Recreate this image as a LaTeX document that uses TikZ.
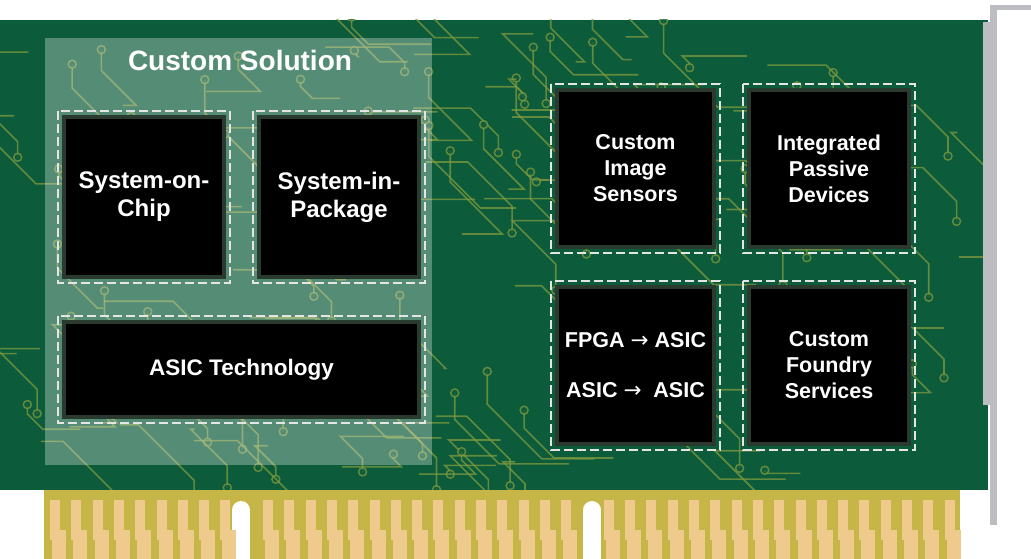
\documentclass[tikz,border=0pt]{standalone}
\usepackage{fontspec}
\setmainfont{Liberation Sans}
\newfontfamily\arrowfont{DejaVu Sans}
\usetikzlibrary{positioning}
\definecolor{board}{HTML}{0C5B3B}
\definecolor{trace}{HTML}{7E9A3F}
\definecolor{gold}{HTML}{C6B647}
\definecolor{finger}{HTML}{EECB8C}
\definecolor{bracket}{HTML}{BCBDC0}
\definecolor{rim}{HTML}{2B3A2E}
\tikzset{
  chip/.style={draw=rim, line width=4pt, fill=black, text=white, anchor=north west,
    font=\bfseries\fontsize{21.5}{26}\selectfont, align=center, inner sep=0pt},
  chipframe/.style={draw=white!80!gray, line width=2.5pt, dash pattern=on 9pt off 4pt},
  wire/.style={draw=trace, line width=1.6pt, opacity=0.75},
  pad/.style={draw=trace, line width=1.5pt, opacity=0.75}
}
\newcommand{\arr}{{\arrowfont\mdseries →}}
\begin{document}
\begin{tikzpicture}[x=1pt,y=-1pt]
\useasboundingbox (0,0) rectangle (1031,559);
% board
\fill[board] (0,20) rectangle (988,490);
% traces
\begin{scope}
\clip (0,20) rectangle (985,490);
\pgfmathsetseed{7}
\foreach \i in {1,...,150}{
  \pgfmathsetmacro{\xa}{10+rnd*960}
  \pgfmathsetmacro{\ya}{30+rnd*450}
  \pgfmathsetmacro{\dx}{(rnd-0.5)*140}
  \pgfmathsetmacro{\dy}{(rnd-0.5)*120}
  \draw[wire] (\xa,\ya) -- ++(\dx,0) -- ++(\dy,\dy) -- ++(0,\dy*0.6) coordinate (e\i);
  \draw[pad, fill=board] (e\i) circle (4pt);
}
\end{scope}
% bracket
\fill[bracket] (990,5) rectangle (997,525);
\fill[bracket] (990,5) rectangle (1031,10);
\fill[bracket] (983,22) rectangle (992,405);
% edge connector
\fill[gold] (44,490) rectangle (960,559);
\fill[white] (232,510) rectangle (250,559);
\fill[white] (241,510) circle (9pt);
\fill[white] (583,510) rectangle (601,559);
\fill[white] (592,510) circle (9pt);
\foreach \k in {0,...,42}{
  \pgfmathsetmacro{\fx}{50+\k*21.3}
  \pgfmathparse{(\fx>222 && \fx<252) || (\fx>573 && \fx<603) ? 1 : 0}
  \ifnum\pgfmathresult=0
    \fill[finger] (\fx,500) rectangle ++(10,40);
    \fill[finger] (\fx+2,530) rectangle ++(14,29);
  \fi
}
% custom solution overlay
\fill[white, opacity=0.3] (45,38) rectangle (432,465);
\node[text=white, font=\bfseries\fontsize{28}{32}\selectfont] (title) at (240,60) {Custom Solution};
% chips
\node[chip, minimum width=160pt, minimum height=160pt, font=\bfseries\fontsize{24}{28}\selectfont] (soc) at (62,115) {System-on-\\Chip};
\node[chip, minimum width=160pt, minimum height=160pt, font=\bfseries\fontsize{24}{28}\selectfont] (sip) at (257,115) {System-in-\\Package};
\node[chip, minimum width=355pt, minimum height=95pt, font=\bfseries\fontsize{22.5}{26}\selectfont] (asic) at (62,320) {ASIC Technology};
\node[chip, minimum width=157pt, minimum height=157pt] (cis) at (555,88) {Custom\\Image\\Sensors};
\node[chip, minimum width=160pt, minimum height=157pt] (ipd) at (747,88) {Integrated\\Passive\\Devices};
\node[chip, minimum width=157pt, minimum height=157pt, font=\bfseries\fontsize{21.5}{50}\selectfont] (conv) at (555,285) {FPGA \arr\ ASIC\\ASIC \arr\ \ ASIC};
\node[chip, minimum width=160pt, minimum height=157pt] (foundry) at (747,285) {Custom\\Foundry\\Services};
\foreach \c in {soc,sip,asic,cis,ipd,conv,foundry}
  \draw[chipframe] ([shift={(-4,-4)}]\c.north west) rectangle ([shift={(4,4)}]\c.south east);
\end{tikzpicture}
\end{document}
